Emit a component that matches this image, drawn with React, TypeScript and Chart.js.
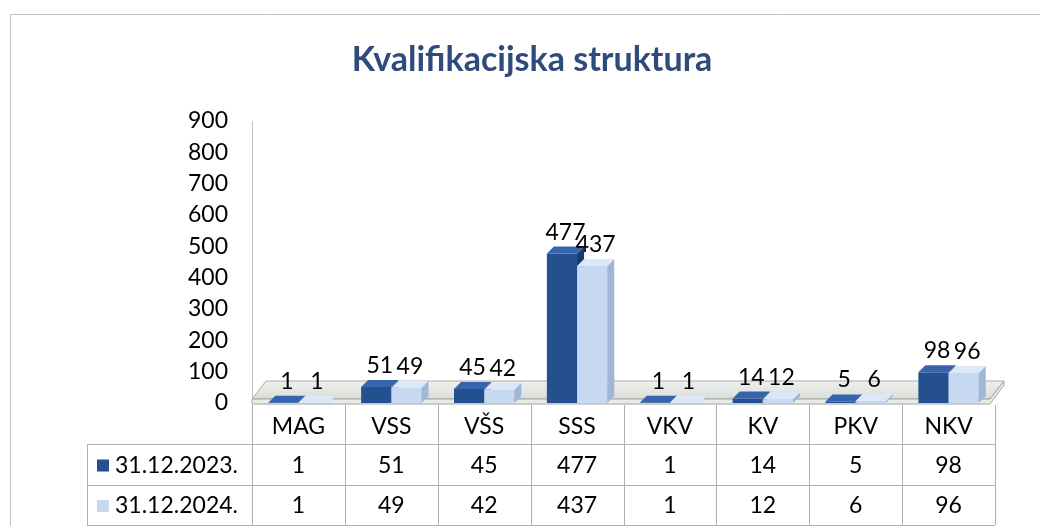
import React, { useEffect, useRef } from 'react';
import { Chart, registerables } from 'chart.js';

Chart.register(...registerables);

const categories = ['MAG', 'VSS', 'VŠS', 'SSS', 'VKV', 'KV', 'PKV', 'NKV'];
const values2023 = [1, 51, 45, 477, 1, 14, 5, 98];
const values2024 = [1, 49, 42, 437, 1, 12, 6, 96];
const seriesNames = ['31.12.2023.', '31.12.2024.'];
const titleText = 'Kvalifikacijska struktura';
const yMin = 0;
const yMax = 900;
const yStep = 100;

const FONT = 'Lato, "Open Sans", sans-serif';
const DX = 7;
const DY = 7;

const palettes = [
  { front: '#24508f', side: '#173a6e', top: '#3566ad' },
  { front: '#c6d9f1', side: '#9fb6d6', top: '#dce8f7' },
];

const titlePlugin = {
  id: 'customTitle',
  afterDraw(chart: any) {
    const { ctx } = chart;
    ctx.save();
    ctx.font = `bold 34px ${FONT}`;
    ctx.fillStyle = '#2f4b7c';
    ctx.textAlign = 'center';
    ctx.textBaseline = 'middle';
    ctx.fillText(titleText, 532, 60);
    ctx.restore();
  },
};

const floorPlugin = {
  id: 'floor3d',
  beforeDatasetsDraw(chart: any) {
    const { ctx, chartArea } = chart;
    const l = chartArea.left;
    const r = chartArea.right - 5;
    const b = chartArea.bottom;
    ctx.save();
    ctx.beginPath();
    ctx.moveTo(l, b - 4);
    ctx.lineTo(r, b - 4);
    ctx.lineTo(r + 14, b - 22);
    ctx.lineTo(l + 14, b - 22);
    ctx.closePath();
    const g = ctx.createLinearGradient(0, b - 22, 0, b - 4);
    g.addColorStop(0, '#eef0ec');
    g.addColorStop(1, '#d9ddd8');
    ctx.fillStyle = g;
    ctx.fill();
    ctx.strokeStyle = '#a8aca8';
    ctx.lineWidth = 1;
    ctx.stroke();
    ctx.beginPath();
    ctx.moveTo(l, b - 4);
    ctx.lineTo(r, b - 4);
    ctx.lineTo(r + 14, b - 22);
    ctx.lineTo(r + 14, b - 18);
    ctx.lineTo(r, b + 1);
    ctx.lineTo(l, b + 1);
    ctx.closePath();
    ctx.fillStyle = '#e9ebe8';
    ctx.fill();
    ctx.strokeStyle = '#a0a4a0';
    ctx.stroke();
    ctx.restore();
  },
};

function drawBox(ctx: any, el: any, pal: any, redrawFront: boolean) {
  const { x, y, base, width } = el.getProps(['x', 'y', 'base', 'width'], true);
  const left = x - width / 2;
  const right = x + width / 2;
  if (redrawFront) {
    ctx.fillStyle = pal.front;
    ctx.fillRect(left, y, width, base - y);
  }
  ctx.fillStyle = pal.side;
  ctx.beginPath();
  ctx.moveTo(right, y);
  ctx.lineTo(right + DX, y - DY);
  ctx.lineTo(right + DX, base - DY);
  ctx.lineTo(right, base);
  ctx.closePath();
  ctx.fill();
  ctx.fillStyle = pal.top;
  ctx.beginPath();
  ctx.moveTo(left, y);
  ctx.lineTo(right, y);
  ctx.lineTo(right + DX, y - DY);
  ctx.lineTo(left + DX, y - DY);
  ctx.closePath();
  ctx.fill();
}

const barsPlugin = {
  id: 'bars3d',
  afterDatasetsDraw(chart: any) {
    const { ctx } = chart;
    const metas = [chart.getDatasetMeta(0), chart.getDatasetMeta(1)];
    ctx.save();
    for (let i = 0; i < categories.length; i++) {
      drawBox(ctx, metas[0].data[i], palettes[0], false);
      drawBox(ctx, metas[1].data[i], palettes[1], true);
    }
    ctx.font = `23px ${FONT}`;
    ctx.fillStyle = '#000';
    ctx.textAlign = 'center';
    ctx.textBaseline = 'alphabetic';
    metas.forEach((meta, di) => {
      const vals = chart.data.datasets[di].data;
      meta.data.forEach((el: any, i: number) => {
        const { x, y } = el.getProps(['x', 'y'], true);
        ctx.fillText(String(vals[i]), x + DX / 2, y - DY - 7);
      });
    });
    ctx.restore();
  },
};

const tablePlugin = {
  id: 'dataTable',
  afterDraw(chart: any) {
    const { ctx, chartArea, scales } = chart;
    const xs = scales.x;
    const n = categories.length;
    const colW = (chartArea.right - chartArea.left) / n;
    const legendLeft = 87;
    const headTop = chartArea.bottom + 2;
    const row1 = 444;
    const row2 = 485;
    const row3 = 525;
    ctx.save();
    ctx.strokeStyle = '#b0b0b0';
    ctx.lineWidth = 1;
    ctx.beginPath();
    for (let i = 0; i <= n; i++) {
      const xx = Math.round(chartArea.left + i * colW) + 0.5;
      ctx.moveTo(xx, headTop);
      ctx.lineTo(xx, row3);
    }
    [row1, row2, row3].forEach((yy) => {
      ctx.moveTo(legendLeft, yy + 0.5);
      ctx.lineTo(chartArea.right, yy + 0.5);
    });
    ctx.moveTo(legendLeft + 0.5, row1);
    ctx.lineTo(legendLeft + 0.5, row3);
    ctx.stroke();

    ctx.fillStyle = '#000';
    ctx.font = `23px ${FONT}`;
    ctx.textAlign = 'center';
    ctx.textBaseline = 'middle';
    const rowsData = [values2023, values2024];
    categories.forEach((c, i) => {
      const cx = xs.getPixelForValue(i);
      ctx.fillText(c, cx, (headTop + row1) / 2 + 2);
      ctx.fillText(String(rowsData[0][i]), cx, (row1 + row2) / 2 + 1);
      ctx.fillText(String(rowsData[1][i]), cx, (row2 + row3) / 2 + 1);
    });

    const rowsY = [(row1 + row2) / 2 + 1, (row2 + row3) / 2 + 1];
    seriesNames.forEach((name, di) => {
      ctx.fillStyle = palettes[di].front;
      ctx.fillRect(97, rowsY[di] - 6, 12, 12);
      ctx.fillStyle = '#000';
      ctx.textAlign = 'left';
      ctx.fillText(name, 115, rowsY[di]);
    });

    ctx.strokeStyle = '#c4c4c4';
    ctx.beginPath();
    ctx.moveTo(10.5, 14);
    ctx.lineTo(10.5, 526);
    ctx.moveTo(10, 14.5);
    ctx.lineTo(1040, 14.5);
    ctx.stroke();
    ctx.restore();
  },
};

export default function App() {
  const canvasRef = useRef<HTMLCanvasElement | null>(null);

  useEffect(() => {
    const canvas = canvasRef.current;
    if (!canvas) return;
    const chart = new Chart(canvas, {
      type: 'bar',
      data: {
        labels: categories,
        datasets: [
          {
            label: seriesNames[0],
            data: values2023,
            backgroundColor: palettes[0].front,
            borderWidth: 0,
            categoryPercentage: 0.65,
            barPercentage: 1,
          },
          {
            label: seriesNames[1],
            data: values2024,
            backgroundColor: palettes[1].front,
            borderWidth: 0,
            categoryPercentage: 0.65,
            barPercentage: 1,
          },
        ],
      },
      options: {
        responsive: false,
        animation: false,
        events: [],
        layout: { padding: { left: 0, right: 45, top: 121, bottom: 123 } },
        plugins: {
          legend: { display: false },
          tooltip: { enabled: false },
          title: { display: false },
        },
        scales: {
          x: { display: false },
          y: {
            min: yMin,
            max: yMax,
            ticks: {
              stepSize: yStep,
              color: '#000',
              font: { family: FONT, size: 23 },
              padding: 24,
            },
            grid: { display: false, drawTicks: false },
            border: { display: true, color: '#c0c0c0', width: 1 },
            afterFit: (s: any) => {
              s.width = 252;
            },
          },
        },
      },
      plugins: [floorPlugin, barsPlugin, tablePlugin, titlePlugin],
    } as any);
    return () => chart.destroy();
  }, []);

  return (
    <div style={{ position: 'fixed', left: 0, top: 0, width: 1040, height: 526, background: '#fff' }}>
      <canvas ref={canvasRef} width={1040} height={526} style={{ display: 'block' }} />
    </div>
  );
}
